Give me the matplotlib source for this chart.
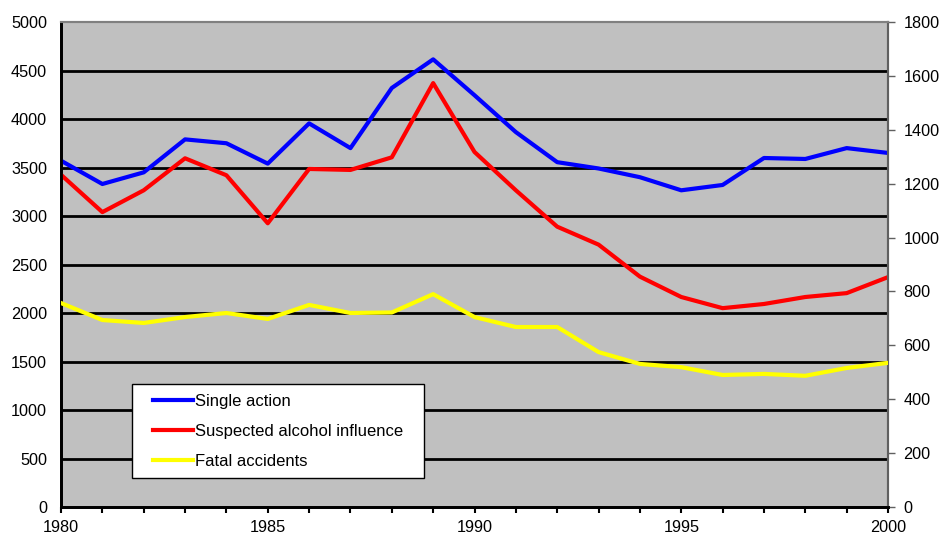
import numpy as np
import matplotlib.pyplot as plt
from matplotlib.legend_handler import HandlerLine2D

plt.rcParams['font.family'] = ['Liberation Sans', 'DejaVu Sans']

years = list(range(1980, 2001))
single_action = [3570, 3330, 3450, 3790, 3750, 3540, 3955, 3700, 4320, 4615,
                 4245, 3865, 3555, 3490, 3400, 3265, 3320, 3598, 3588, 3700, 3650]
alcohol = [3425, 3040, 3265, 3595, 3420, 2925, 3485, 3475, 3605, 4370,
           3660, 3265, 2890, 2705, 2375, 2165, 2050, 2093, 2165, 2205, 2370]
fatal = [757, 694, 683, 705, 720, 698, 750, 720, 722, 790,
         705, 668, 668, 575, 531, 519, 490, 494, 487, 516, 535]


class ShortLine(HandlerLine2D):
    # legend line only over the right part of the handle box
    def get_xdata(self, legend, xdescent, ydescent, width, height, fontsize):
        x = np.array([-xdescent + 0.23 * width, -xdescent + width])
        return x, x


fig = plt.figure(figsize=(9.4, 5.38), dpi=100)
ax = fig.add_axes([0.0649, 0.0576, 0.8798, 0.9015])
ax.set_facecolor('#c0c0c0')

l1, = ax.plot(years, single_action, color='#0000ff', lw=3, label='Single action', zorder=3)
l2, = ax.plot(years, alcohol, color='#ff0000', lw=3, label='Suspected alcohol influence', zorder=3)

ax2 = ax.twinx()
l3, = ax2.plot(years, fatal, color='#ffff00', lw=3, label='Fatal accidents', zorder=3)

ax.set_xlim(1980, 2000)
ax.set_ylim(0, 5000)
ax2.set_ylim(0, 1800)
ax.set_yticks(range(0, 5001, 500))
ax2.set_yticks(range(0, 1801, 200))
ax.set_xticks(range(1980, 2001, 5))
ax.set_xticks(years, minor=True)

for y in range(500, 5000, 500):
    ax.axhline(y, color='black', lw=2, zorder=1)

ax.tick_params(axis='y', length=0, labelsize=11.7, pad=10)
ax.tick_params(axis='x', which='both', direction='out', length=4, width=1.5,
               color='black', labelsize=11.7, pad=5.5)
ax2.tick_params(axis='y', direction='out', length=5, width=1, color='#606060',
                labelsize=11.7, pad=6)

for a in (ax, ax2):
    a.spines['top'].set_color('#808080')
    a.spines['top'].set_linewidth(1.5)
    a.spines['left'].set_color('black')
    a.spines['left'].set_linewidth(2)
    a.spines['bottom'].set_color('black')
    a.spines['bottom'].set_linewidth(2)
    a.spines['right'].set_color('#606060')
    a.spines['right'].set_linewidth(1.5)

leg = ax2.legend(handles=[l1, l2, l3], loc='lower left',
                 bbox_to_anchor=(0.086, 0.059, 0.353, 0.19), mode='expand',
                 fontsize=12, handlelength=3.13, handletextpad=0.1,
                 labelspacing=0.92, borderpad=0.55, fancybox=False, framealpha=1,
                 edgecolor='black', borderaxespad=0,
                 handler_map={l1: ShortLine(), l2: ShortLine(), l3: ShortLine()})
leg.get_frame().set_linewidth(1)

fig.savefig('out.png', dpi=100)
